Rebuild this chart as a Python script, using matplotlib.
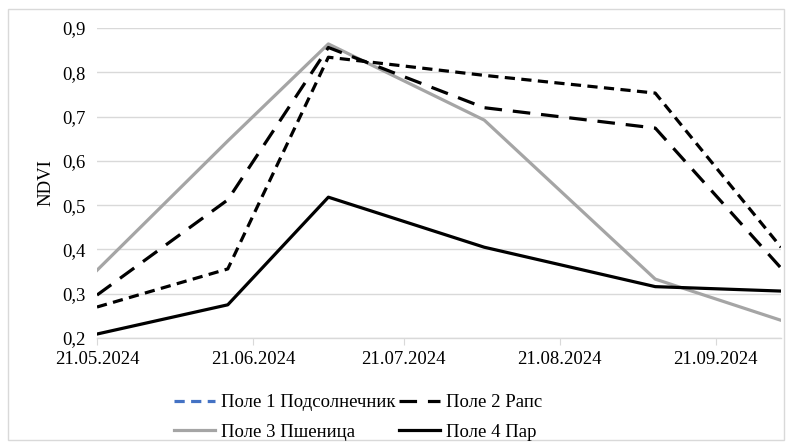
import datetime as dt
import matplotlib
matplotlib.use("Agg")
import matplotlib.pyplot as plt
import matplotlib.dates as mdates
from matplotlib.lines import Line2D
from matplotlib.patches import Rectangle

# survey dates and NDVI per field
dates = [dt.date(2024, 5, 21), dt.date(2024, 6, 16), dt.date(2024, 7, 6),
         dt.date(2024, 8, 6), dt.date(2024, 9, 9), dt.date(2024, 10, 4)]
sunflower = [0.270, 0.356, 0.834, 0.793, 0.753, 0.405]
rapeseed = [0.297, 0.512, 0.856, 0.720, 0.674, 0.358]
wheat = [0.353, 0.645, 0.864, 0.692, 0.333, 0.240]
fallow = [0.209, 0.275, 0.518, 0.405, 0.316, 0.306]

labels = ["Поле 1 Подсолнечник", "Поле 2 Рапс", "Поле 3 Пшеница", "Поле 4 Пар"]
tick_dates = [dt.date(2024, m, 21) for m in (5, 6, 7, 8, 9)]
y_ticks = [0.2, 0.3, 0.4, 0.5, 0.6, 0.7, 0.8, 0.9]

plt.rcParams["font.family"] = ["Liberation Serif", "DejaVu Serif"]
FS = 13.5

fig = plt.figure(figsize=(7.92, 4.47), dpi=100)
ax = fig.add_axes([0.1225, 0.2438, 0.8636, 0.6936])

lw = 2.3
ax.plot(dates, sunflower, color="black", lw=lw, dashes=(3.2, 2.0), zorder=3)
ax.plot(dates, rapeseed, color="black", lw=lw, dashes=(5.5, 3.4), zorder=3)
ax.plot(dates, wheat, color="#a5a5a5", lw=lw, zorder=2)
ax.plot(dates, fallow, color="black", lw=lw, zorder=3)

ax.set_xlim(dates[0], dates[-1])
ax.set_ylim(0.2, 0.9)
ax.set_yticks(y_ticks)
ax.set_yticklabels([f"{v:.1f}".replace(".", ",") for v in y_ticks], fontsize=FS)
ax.set_xticks(tick_dates)
ax.xaxis.set_major_formatter(mdates.DateFormatter("%d.%m.%Y"))
for t in ax.get_xticklabels():
    t.set_fontsize(FS)

ax.grid(axis="y", color="#d9d9d9", lw=1.0)
ax.set_axisbelow(True)
for s in ("top", "right", "left"):
    ax.spines[s].set_visible(False)
ax.spines["bottom"].set_color("#d9d9d9")
ax.spines["bottom"].set_linewidth(1.0)
ax.tick_params(axis="y", length=0, pad=8)
ax.tick_params(axis="x", length=5, color="#d9d9d9", pad=4)
ax.set_ylabel("NDVI", fontsize=FS, labelpad=6)

handles = [
    Line2D([], [], color="#4472c4", lw=lw, dashes=(3.2, 2.0)),
    Line2D([], [], color="black", lw=lw, dashes=(5.5, 3.4)),
    Line2D([], [], color="#a5a5a5", lw=lw),
    Line2D([], [], color="black", lw=lw),
]
# legend fills by column, so reorder to read across rows
order = [0, 2, 1, 3]
fig.legend([handles[i] for i in order], [labels[i] for i in order],
           loc="center", bbox_to_anchor=(0.452, 0.066), ncol=2,
           frameon=False, fontsize=FS, handlelength=2.2, handletextpad=0.3,
           columnspacing=0.2, labelspacing=0.65)

fig.patches.append(Rectangle((0.01, 0.015), 0.98, 0.965, transform=fig.transFigure,
                             fill=False, edgecolor="#d9d9d9", lw=1.0))

fig.savefig("out.png", dpi=100)
